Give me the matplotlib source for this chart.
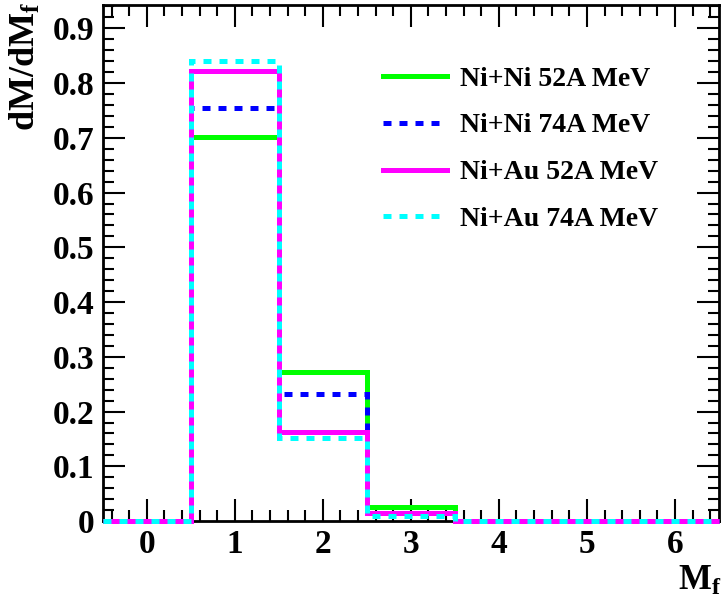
import matplotlib
matplotlib.use("Agg")
import matplotlib.pyplot as plt
import numpy as np
from matplotlib.ticker import MultipleLocator
from matplotlib.lines import Line2D

edges = np.arange(-0.5, 7.0, 1.0)
labels = ["Ni+Ni 52A MeV", "Ni+Ni 74A MeV", "Ni+Au 52A MeV", "Ni+Au 74A MeV"]
nini52 = [0.0, 0.702, 0.273, 0.025, 0.0, 0.0, 0.0]
nini74 = [0.0, 0.755, 0.232, 0.015, 0.0, 0.0, 0.0]
niau52 = [0.0, 0.823, 0.163, 0.015, 0.0, 0.0, 0.0]
niau74 = [0.0, 0.840, 0.152, 0.010, 0.0, 0.0, 0.0]
series = [nini52, nini74, niau52, niau74]
colors = ["#00ff00", "#0000ff", "#ff00ff", "#00ffff"]
styles = ["-", (0, (1.6, 1.6)), "-", (0, (1.6, 1.6))]

plt.rcParams['font.family'] = ['Liberation Serif', 'DejaVu Serif']
plt.rcParams['font.weight'] = 'bold'
plt.rcParams['mathtext.fontset'] = 'custom'
plt.rcParams['mathtext.rm'] = 'Liberation Serif:bold'
plt.rcParams['mathtext.it'] = 'Liberation Serif:bold'
plt.rcParams['mathtext.bf'] = 'Liberation Serif:bold'

fig = plt.figure(figsize=(7.24, 6.01), dpi=100)
ax = fig.add_axes([0.142, 0.133, 0.851, 0.859])

lw = 3.6
for vals, c, ls, lab in zip(series, colors, styles, labels):
    ax.stairs(vals, edges, color=c, linestyle=ls, linewidth=lw, label=lab,
              baseline=None, clip_on=False, zorder=3)

ax.set_xlim(-0.5, 6.5)
ax.set_ylim(0, 0.943)
ax.xaxis.set_major_locator(MultipleLocator(1))
ax.xaxis.set_minor_locator(MultipleLocator(0.2))
ax.yaxis.set_major_locator(MultipleLocator(0.1))
ax.yaxis.set_minor_locator(MultipleLocator(0.02))
ax.yaxis.set_major_formatter(plt.FuncFormatter(lambda v, p: "0" if abs(v) < 1e-9 else f"{v:.1f}"))
ax.tick_params(which='both', direction='in', top=True, right=True, width=1.5)
ax.tick_params(which='major', length=16, labelsize=24, pad=6)
ax.tick_params(which='minor', length=8)
for sp in ax.spines.values():
    sp.set_linewidth(2)

proxies = [Line2D([], [], color=c, linestyle=ls, linewidth=lw) for c, ls in zip(colors, styles)]
ax.legend(proxies, labels, loc='upper left', bbox_to_anchor=(0.433, 0.908),
          frameon=False, handlelength=2.3, handletextpad=0.45, borderpad=0,
          labelspacing=0.77, prop={'weight': 'bold', 'size': 20})

fig.text(0.012, 0.998, r"dM/dM$_{\mathbf{f}}$", rotation=90, ha='left', va='top', fontsize=26,
         fontweight='bold')
fig.text(0.996, 0.005, r"M$_{\mathbf{f}}$", ha='right', va='bottom', fontsize=25, fontweight='bold')

fig.savefig("out.png", dpi=100)
